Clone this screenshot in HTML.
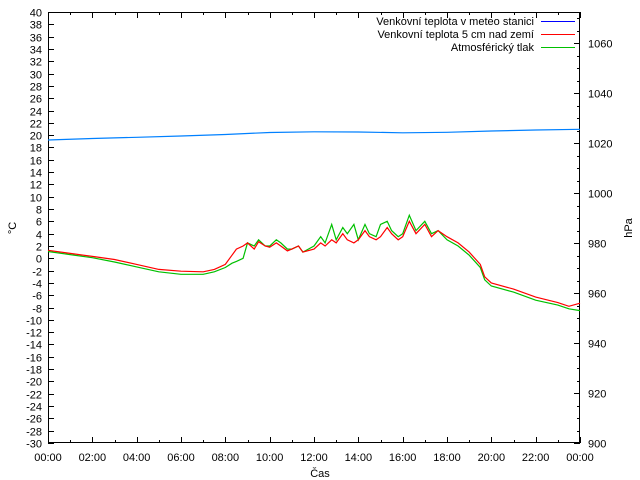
<!DOCTYPE html>
<html><head><meta charset="utf-8"><style>
body{margin:0;background:#fff}
svg{display:block;font-family:"Liberation Sans","DejaVu Sans",sans-serif;font-size:11px}
</style></head><body>
<svg id="c" width="640" height="480">
<rect width="640" height="480" fill="#fff"/>
</svg>
<script>
const tempHours=[0,1,2,3,4,5,6,7,7.5,8,8.3,8.5,8.8,9,9.3,9.5,9.8,10,10.3,10.5,10.8,11,11.3,11.5,12,12.3,12.5,12.8,13,13.3,13.5,13.8,14,14.3,14.5,14.8,15,15.3,15.5,15.8,16,16.3,16.6,17,17.3,17.6,18,18.5,19,19.5,19.7,20,21,22,23,23.5,24];
const stationTemp=[1.3,0.8,0.3,-0.2,-1,-1.8,-2.1,-2.2,-1.8,-1,0.5,1.5,2,2.5,1.5,2.7,2,1.8,2.5,2,1.2,1.5,2,1,1.5,2.5,2,3,2.5,4,3,2.5,3,4.5,3.5,3,3.5,5,4,3,3.5,6,4,5.5,3.5,4.5,3.5,2.5,1,-1,-3,-4,-5,-6.3,-7.2,-7.8,-7.3];
const groundTemp=[1.1,0.6,0.1,-0.6,-1.4,-2.2,-2.6,-2.6,-2.2,-1.5,-0.8,-0.5,0,2.5,2,3,2,2,3,2.5,1.5,1.5,2,1,2,3.5,2.5,5.5,3,5,4,5.5,3,5.5,4,3.5,5.5,6,4.5,3.5,4,7,4.5,6,4,4.5,3,2,0.5,-1.5,-3.5,-4.5,-5.5,-6.8,-7.6,-8.2,-8.5];
const pressHours=[0,2,4,6,8,10,12,14,16,18,20,22,24];
const pressure=[1021.2,1021.8,1022.3,1022.8,1023.4,1024.2,1024.5,1024.4,1024.1,1024.3,1024.8,1025.2,1025.5];
const leftTicks=[-30,-28,-26,-24,-22,-20,-18,-16,-14,-12,-10,-8,-6,-4,-2,0,2,4,6,8,10,12,14,16,18,20,22,24,26,28,30,32,34,36,38,40];
const rightTicks=[900,920,940,960,980,1000,1020,1040,1060];
const timeLabels=["00:00","02:00","04:00","06:00","08:00","10:00","12:00","14:00","16:00","18:00","20:00","22:00","00:00"];
const L=48,R=580,T=12,B=443;
const x=h=>L+h*(R-L)/24;
const yL=v=>B-(v+30)*(B-T)/70;
const yR=v=>B-(v-900)*2.5;
const svg=document.getElementById('c');
const NS='http://www.w3.org/2000/svg';
function mk(tag,attrs,parent){const e=document.createElementNS(NS,tag);for(const k in attrs)e.setAttribute(k,attrs[k]);(parent||svg).appendChild(e);return e;}
const ax=mk('g',{stroke:'#000','stroke-width':1});


mk('rect',{x:L+.5,y:T+.5,width:R-L-1,height:B-T-1,fill:'none'},ax);
leftTicks.forEach(v=>{
 const y=Math.round(yL(v))+.5;
 mk('line',{x1:L,x2:L+6,y1:y,y2:y},ax);
 const t=mk('text',{x:42,y:y+4,'text-anchor':'end',stroke:'none',fill:'#000'});t.textContent=v;
 
 
});
for(let v=900;v<=1070;v+=5){
 const y=Math.round(yR(v))+.5;
 mk('line',{x1:R-(v%20==0?6:3),x2:R,y1:y,y2:y},ax);
}
rightTicks.forEach(v=>{
 const y=Math.round(yR(v))+.5;
 const t=mk('text',{x:588,y:y+4,stroke:'none',fill:'#000'});t.textContent=v;
 
 
});
for(let h=0;h<=24;h++){
 const xx=Math.round(x(h))+.5,len=h%2?3:6;
 mk('line',{x1:xx,x2:xx,y1:B,y2:B-len},ax);
 mk('line',{x1:xx,x2:xx,y1:T,y2:T+len},ax);
}
timeLabels.forEach((s,i)=>{
 const t=mk('text',{x:x(i*2),y:461,'text-anchor':'middle'});t.textContent=s;
 
 
});
let t=mk('text',{x:320,y:477,'text-anchor':'middle'});t.textContent='Čas';


t=mk('text',{x:16,y:228,'text-anchor':'middle',transform:'rotate(-90 16 228)'});t.textContent='°C';


t=mk('text',{x:632,y:228,'text-anchor':'middle',transform:'rotate(-90 632 228)'});t.textContent='hPa';


function line(hs,vs,fy,color,name){
 const p=mk('polyline',{points:hs.map((h,i)=>x(h).toFixed(1)+','+fy(vs[i]).toFixed(1)).join(' '),fill:'none',stroke:color,'stroke-width':1.2});
 
 
}
line(pressHours,pressure,yR,'#0080ff','pressure-line');
line(tempHours,groundTemp,yL,'#00c000','ground-temp-line');
line(tempHours,stationTemp,yL,'#ff0000','station-temp-line');
const leg=[['Venkovní teplota v meteo stanici','#0000ff'],['Venkovní teplota 5 cm nad zemí','#ff0000'],['Atmosférický tlak','#00c000']];
leg.forEach((l,i)=>{
 const y=21+i*13;
 const g=mk('g',{});
 
 
 const tx=mk('text',{x:534,y:y+4,'text-anchor':'end'},g);tx.textContent=l[0];
 mk('line',{x1:541,x2:575,y1:y+.5,y2:y+.5,stroke:l[1]},g);
});
</script>
</body></html>
